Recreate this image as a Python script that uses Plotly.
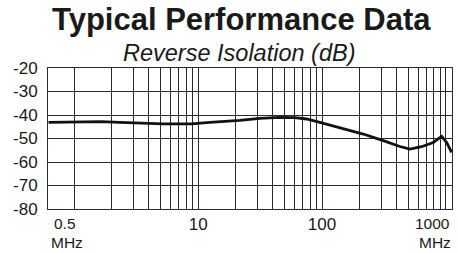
import plotly.graph_objects as go

# Data
freq_mhz = [0.62, 1.04, 1.66, 2.33, 3.18, 4.2, 5.21, 6.69, 8.84, 12.4, 21.7, 31.5,
            45.7, 60.4, 75, 96, 139, 215, 312, 425, 512, 636, 790, 924, 1014, 1112]
isolation_db = [-43.1, -42.85, -42.85, -43.1, -43.4, -43.7, -43.8, -43.8, -43.8, -43.1,
                -42.3, -41.4, -41.0, -41.1, -41.7, -43.1, -45.3, -48.1, -50.9, -53.4,
                -54.5, -53.5, -51.7, -49.1, -51.7, -55.9]

grid_freqs = [1, 2, 3, 4, 5, 6, 7, 8, 9, 10, 20, 30, 40, 50, 60, 70, 80, 90,
              100, 200, 300, 400, 500, 600, 700, 800, 900, 1000]
labeled_freqs = {10: "10", 100: "100"}
y_ticks = [-80, -70, -60, -50, -40, -30, -20]

title_text = "Typical Performance Data"
subtitle_text = "Reverse Isolation (dB)"

FONT = "Liberation Sans, Arial, sans-serif"
INK = "#1a1a1a"

fig = go.Figure()
fig.add_trace(go.Scatter(
    x=freq_mhz, y=isolation_db, mode="lines",
    line=dict(color="#111111", width=2.8),
    hoverinfo="skip", showlegend=False,
))

fig.update_xaxes(
    type="log",
    range=[-0.212, 3.049],
    tickvals=grid_freqs,
    ticktext=[labeled_freqs.get(v, "") for v in grid_freqs],
    showgrid=True, gridcolor="#2a2a2a", gridwidth=1,
    showline=True, mirror=True, linecolor="#2a2a2a", linewidth=1,
    ticks="", zeroline=False,
    tickfont=dict(family=FONT, size=17, color=INK),
    ticklabelstandoff=0,
)
fig.update_yaxes(
    range=[-80, -20],
    tickvals=y_ticks,
    ticktext=[str(v) for v in y_ticks],
    showgrid=True, gridcolor="#2a2a2a", gridwidth=1,
    showline=True, mirror=True, linecolor="#2a2a2a", linewidth=1,
    ticks="", zeroline=False,
    tickfont=dict(family=FONT, size=17, color=INK),
    ticklabelstandoff=6,
)

small = dict(family=FONT, size=15.5, color=INK)
annotations = [
    dict(text="<b>" + title_text + "</b>", x=0.4786, y=1.343, xref="paper", yref="paper",
         xanchor="center", yanchor="middle", showarrow=False,
         font=dict(family=FONT, size=31, color=INK)),
    dict(text="<i>" + subtitle_text + "</i>", x=0.474, y=1.106, xref="paper", yref="paper",
         xanchor="center", yanchor="middle", showarrow=False,
         font=dict(family=FONT, size=23.5, color=INK)),
    dict(text="0.5", x=0.0426, y=-0.100, xref="paper", yref="paper", height=14,
         xanchor="center", yanchor="middle", showarrow=False, font=small),
    dict(text="MHz", x=0.046, y=-0.232, xref="paper", yref="paper", height=14,
         xanchor="center", yanchor="middle", showarrow=False, font=small),
    dict(text="1000", x=0.952, y=-0.100, xref="paper", yref="paper", height=14,
         xanchor="center", yanchor="middle", showarrow=False, font=small),
    dict(text="MHz", x=0.958, y=-0.232, xref="paper", yref="paper", height=14,
         xanchor="center", yanchor="middle", showarrow=False, font=small),
]

fig.update_layout(
    width=458, height=253,
    margin=dict(l=48, r=6, t=68, b=44, pad=0),
    paper_bgcolor="white", plot_bgcolor="white",
    annotations=annotations,
    showlegend=False,
)

fig.write_html(
    "out.html",
    config={"displayModeBar": False},
    post_script="document.body.style.margin='0';document.body.style.overflow='hidden';",
)
